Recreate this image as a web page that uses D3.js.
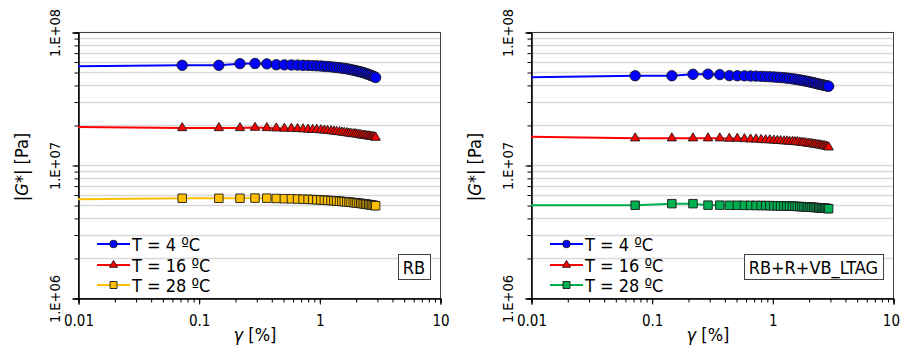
<!DOCTYPE html>
<html>
<head>
<meta charset="utf-8">
<script src="https://cdn.jsdelivr.net/npm/d3@7"></script>
<style>
  html, body { margin: 0; padding: 0; background: #fff; }
  svg { display: block; font-family: "DejaVu Sans Condensed", "DejaVu Sans", Verdana, sans-serif; font-stretch: condensed; }
</style>
</head>
<body>
<svg id="chart" width="900" height="349"></svg>
<script>
// Strain amplitude sweep, γ [%]
const strain = [0.073, 0.147, 0.22, 0.293, 0.367, 0.44, 0.513, 0.587, 0.66, 0.733,
  0.807, 0.88, 0.953, 1.03, 1.1, 1.17, 1.25, 1.32, 1.39, 1.47,
  1.54, 1.61, 1.69, 1.76, 1.83, 1.91, 1.98, 2.05, 2.13, 2.2,
  2.27, 2.35, 2.42, 2.49, 2.57, 2.64, 2.71, 2.79, 2.86, 2.93];

// Start of the plateau line (γ = 0.01 %) for each series
const lineStartStrain = 0.01;

// |G*| [Pa] — binder RB
const rbT4 = [5.62e7, 5.62e7, 5.78e7, 5.80e7, 5.76e7, 5.67e7, 5.66e7, 5.65e7, 5.64e7, 5.62e7,
  5.61e7, 5.59e7, 5.57e7, 5.55e7, 5.52e7, 5.50e7, 5.47e7, 5.44e7, 5.41e7, 5.38e7,
  5.35e7, 5.32e7, 5.29e7, 5.25e7, 5.21e7, 5.17e7, 5.13e7, 5.09e7, 5.05e7, 5.01e7,
  4.97e7, 4.93e7, 4.88e7, 4.84e7, 4.79e7, 4.74e7, 4.70e7, 4.65e7, 4.60e7, 4.55e7];
const rbT16 = [1.90e7, 1.90e7, 1.90e7, 1.91e7, 1.90e7, 1.89e7, 1.88e7, 1.88e7, 1.87e7, 1.86e7,
  1.85e7, 1.84e7, 1.84e7, 1.83e7, 1.82e7, 1.81e7, 1.80e7, 1.79e7, 1.78e7, 1.77e7,
  1.76e7, 1.75e7, 1.74e7, 1.73e7, 1.72e7, 1.71e7, 1.71e7, 1.70e7, 1.69e7, 1.68e7,
  1.67e7, 1.67e7, 1.66e7, 1.65e7, 1.65e7, 1.64e7, 1.63e7, 1.63e7, 1.62e7, 1.61e7];
const rbT28 = [5.62e6, 5.62e6, 5.62e6, 5.64e6, 5.63e6, 5.60e6, 5.58e6, 5.57e6, 5.55e6, 5.53e6,
  5.52e6, 5.50e6, 5.48e6, 5.46e6, 5.44e6, 5.42e6, 5.40e6, 5.38e6, 5.36e6, 5.34e6,
  5.32e6, 5.30e6, 5.28e6, 5.26e6, 5.24e6, 5.22e6, 5.20e6, 5.18e6, 5.16e6, 5.14e6,
  5.12e6, 5.10e6, 5.08e6, 5.06e6, 5.04e6, 5.02e6, 5.00e6, 4.98e6, 4.96e6, 4.94e6];
const rbLineStart = [5.52e7, 1.93e7, 5.53e6];

// |G*| [Pa] — binder RB+R+VB_LTAG
const ltagT4 = [4.69e7, 4.69e7, 4.81e7, 4.82e7, 4.78e7, 4.70e7, 4.69e7, 4.68e7, 4.67e7, 4.66e7,
  4.64e7, 4.62e7, 4.61e7, 4.59e7, 4.57e7, 4.55e7, 4.53e7, 4.50e7, 4.48e7, 4.45e7,
  4.42e7, 4.39e7, 4.36e7, 4.33e7, 4.30e7, 4.27e7, 4.24e7, 4.21e7, 4.18e7, 4.15e7,
  4.12e7, 4.09e7, 4.06e7, 4.04e7, 4.01e7, 3.99e7, 3.97e7, 3.95e7, 3.93e7, 3.91e7];
const ltagT16 = [1.59e7, 1.59e7, 1.59e7, 1.59e7, 1.59e7, 1.58e7, 1.58e7, 1.57e7, 1.56e7, 1.56e7,
  1.55e7, 1.54e7, 1.54e7, 1.53e7, 1.52e7, 1.52e7, 1.51e7, 1.51e7, 1.50e7, 1.50e7,
  1.49e7, 1.49e7, 1.48e7, 1.47e7, 1.47e7, 1.46e7, 1.45e7, 1.45e7, 1.44e7, 1.43e7,
  1.43e7, 1.42e7, 1.41e7, 1.41e7, 1.40e7, 1.39e7, 1.39e7, 1.38e7, 1.37e7, 1.36e7];
const ltagT28 = [4.98e6, 5.12e6, 5.12e6, 4.99e6, 4.99e6, 4.98e6, 4.98e6, 4.97e6, 4.97e6, 4.96e6,
  4.96e6, 4.95e6, 4.95e6, 4.94e6, 4.93e6, 4.93e6, 4.92e6, 4.91e6, 4.91e6, 4.90e6,
  4.89e6, 4.88e6, 4.87e6, 4.86e6, 4.85e6, 4.84e6, 4.83e6, 4.82e6, 4.81e6, 4.80e6,
  4.79e6, 4.78e6, 4.77e6, 4.76e6, 4.75e6, 4.74e6, 4.73e6, 4.72e6, 4.71e6, 4.69e6];
const ltagLineStart = [4.56e7, 1.63e7, 4.98e6];

const seriesNames = ["T = 4 ºC", "T = 16 ºC", "T = 28 ºC"];
const binderLabels = ["RB", "RB+R+VB_LTAG"];

const xTickLabels = ["0.01", "0.1", "1", "10"];
const yTickLabels = ["1.E+06", "1.E+07", "1.E+08"];

// ---------------------------------------------------------------------
const svg = d3.select("#chart");
const FONT = "DejaVu Sans Condensed, DejaVu Sans, Verdana, sans-serif";

const xTickValues = xTickLabels.map(Number);
const yTickValues = yTickLabels.map(Number);

function minorTicks(lo, hi) {
  const out = [];
  for (let e = Math.round(Math.log10(lo)); e < Math.round(Math.log10(hi)); e++) {
    for (let m = 1; m < 10; m++) out.push(+(m * Math.pow(10, e)).toPrecision(6));
  }
  out.push(hi);
  return out;
}

const panels = [
  {
    left: 78, right: 440, label: binderLabels[0],
    series: [
      { name: seriesNames[0], values: rbT4, start: rbLineStart[0], color: "#0000FF", marker: "circle" },
      { name: seriesNames[1], values: rbT16, start: rbLineStart[1], color: "#FF0000", marker: "triangle" },
      { name: seriesNames[2], values: rbT28, start: rbLineStart[2], color: "#FFC000", marker: "square" }
    ]
  },
  {
    left: 531, right: 893, label: binderLabels[1],
    series: [
      { name: seriesNames[0], values: ltagT4, start: ltagLineStart[0], color: "#0000FF", marker: "circle" },
      { name: seriesNames[1], values: ltagT16, start: ltagLineStart[1], color: "#FF0000", marker: "triangle" },
      { name: seriesNames[2], values: ltagT28, start: ltagLineStart[2], color: "#00B050", marker: "square" }
    ]
  }
];

const plotTop = 32, plotBottom = 298;

const symbolFor = {
  circle: d3.symbol().type(d3.symbolCircle).size(Math.PI * 5.2 * 5.2),
  triangle: d3.symbol().type(d3.symbolTriangle).size(38),
  square: d3.symbol().type(d3.symbolSquare).size(72)
};
const legendSymbol = {
  circle: d3.symbol().type(d3.symbolCircle).size(Math.PI * 3.8 * 3.8),
  triangle: d3.symbol().type(d3.symbolTriangle).size(28),
  square: d3.symbol().type(d3.symbolSquare).size(49)
};

panels.forEach(p => {
  const x = d3.scaleLog().domain([xTickValues[0], xTickValues[xTickValues.length - 1]]).range([p.left, p.right]);
  const y = d3.scaleLog().domain([yTickValues[0], yTickValues[yTickValues.length - 1]]).range([plotBottom, plotTop]);
  const g = svg.append("g");

  // horizontal gridlines at every decade subdivision
  const yMinor = minorTicks(y.domain()[0], y.domain()[1]);
  g.append("g").selectAll("line")
    .data(yMinor.filter(v => v > y.domain()[0]))
    .join("line")
    .attr("x1", p.left).attr("x2", p.right)
    .attr("y1", d => Math.round(y(d)) + 0.5).attr("y2", d => Math.round(y(d)) + 0.5)
    .attr("stroke", "#d9d9d9").attr("stroke-width", 1.4);

  // plot frame
  g.append("rect")
    .attr("x", p.left + 0.5).attr("y", plotTop + 0.5)
    .attr("width", p.right - p.left).attr("height", plotBottom - plotTop)
    .attr("fill", "none").attr("stroke", "#404040").attr("stroke-width", 1);

  // y axis: minor + major ticks
  const yMinorAxis = d3.axisLeft(y).tickValues(yMinor).tickSize(4).tickFormat("");
  const yMajorAxis = d3.axisLeft(y).tickValues(yTickValues).tickSize(6)
    .tickFormat((d, i) => yTickLabels[i]);
  const ga1 = g.append("g").attr("transform", `translate(${p.left + 0.5},0.5)`).call(yMinorAxis);
  const ga2 = g.append("g").attr("transform", `translate(${p.left + 0.5},0.5)`).call(yMajorAxis);
  [ga1, ga2].forEach(a => {
    a.select(".domain").attr("stroke", "#000");
    a.selectAll(".tick line").attr("stroke", "#000");
  });
  ga2.selectAll(".tick text")
    .attr("x", 0).attr("dy", null)
    .attr("text-anchor", "middle")
    .attr("dominant-baseline", "central")
    .attr("transform", "translate(-24,0) rotate(-90)")
    .attr("font-size", 14.5).attr("fill", "#000")
    .attr("font-family", FONT);

  // x axis: minor + major ticks
  const xMinor = minorTicks(x.domain()[0], x.domain()[1]);
  const xMinorAxis = d3.axisBottom(x).tickValues(xMinor).tickSize(4).tickFormat("");
  const xMajorAxis = d3.axisBottom(x).tickValues(xTickValues).tickSize(6)
    .tickFormat((d, i) => xTickLabels[i]);
  const gx1 = g.append("g").attr("transform", `translate(0.5,${plotBottom + 0.5})`).call(xMinorAxis);
  const gx2 = g.append("g").attr("transform", `translate(0.5,${plotBottom + 0.5})`).call(xMajorAxis);
  [gx1, gx2].forEach(a => {
    a.select(".domain").attr("stroke", "#000");
    a.selectAll(".tick line").attr("stroke", "#000");
  });
  gx2.selectAll(".tick text")
    .attr("y", 27.5).attr("dy", null)
    .attr("font-size", 15).attr("fill", "#000")
    .attr("font-family", FONT)
    .each(function () {
      // keep the outermost label inside the canvas
      const b = this.getBBox();
      const m = this.parentNode.transform.baseVal.consolidate().matrix;
      const overflow = m.e + b.x + b.width - 899.5;
      if (overflow > 0) d3.select(this).attr("x", -overflow);
    });

  // axis titles
  const yt = g.append("text")
    .attr("transform", `translate(${p.left - 57},167) rotate(-90)`)
    .attr("text-anchor", "middle").attr("dominant-baseline", "central")
    .attr("font-size", 18).attr("fill", "#000");
  yt.append("tspan").text("|");
  yt.append("tspan").attr("font-style", "italic").text("G");
  yt.append("tspan").text("*| [Pa]");

  const xt = g.append("text")
    .attr("x", (p.left + p.right) / 2 - 4).attr("y", 341)
    .attr("text-anchor", "middle").attr("font-size", 18).attr("fill", "#000");
  xt.append("tspan").attr("font-style", "italic").text("γ");
  xt.append("tspan").text(" [%]");

  // series: line then markers
  const line = d3.line().x(d => x(d[0])).y(d => y(d[1]));
  p.series.forEach(s => {
    const pts = s.values.map((v, i) => [strain[i], v]);
    g.append("path")
      .datum([[lineStartStrain, s.start]].concat(pts))
      .attr("d", line)
      .attr("fill", "none").attr("stroke", s.color).attr("stroke-width", 2);
  });
  p.series.forEach(s => {
    const pts = s.values.map((v, i) => [strain[i], v]);
    g.append("g").selectAll("path")
      .data(pts)
      .join("path")
      .attr("d", symbolFor[s.marker])
      .attr("transform", d => `translate(${x(d[0])},${y(d[1])})`)
      .attr("fill", s.color).attr("stroke", "#1a1a1a").attr("stroke-width", 0.9);
  });

  // legend
  const legendRows = [244, 265, 285];
  const lg = g.append("g");
  p.series.forEach((s, i) => {
    const ly = legendRows[i];
    lg.append("line")
      .attr("x1", p.left + 19).attr("x2", p.left + 52)
      .attr("y1", ly).attr("y2", ly)
      .attr("stroke", s.color).attr("stroke-width", 2);
    lg.append("path")
      .attr("d", legendSymbol[s.marker])
      .attr("transform", `translate(${p.left + 35.5},${ly})`)
      .attr("fill", s.color).attr("stroke", "#1a1a1a").attr("stroke-width", 0.9);
    lg.append("text")
      .attr("x", p.left + 54).attr("y", ly)
      .attr("dominant-baseline", "central")
      .attr("font-size", 18).attr("fill", "#000")
      .text(s.name);
  });

  // binder label box
  const boxRight = p.right - 10;
  const box = g.append("rect");
  const lbl = g.append("text")
    .attr("x", boxRight - 5).attr("y", 267).attr("text-anchor", "end")
    .attr("dominant-baseline", "central")
    .attr("font-size", 18).attr("fill", "#000")
    .text(p.label);
  const w = lbl.node().getComputedTextLength();
  box.attr("x", Math.round(boxRight - w - 10) + 0.5).attr("y", 254.5)
    .attr("width", Math.round(w + 10)).attr("height", 25)
    .attr("fill", "#fff").attr("stroke", "#404040").attr("stroke-width", 1);
});
</script>
</body>
</html>
